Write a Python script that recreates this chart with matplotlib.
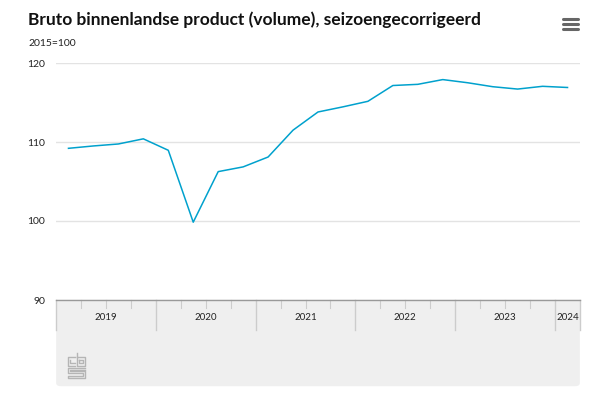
import matplotlib.pyplot as plt
from matplotlib.patches import FancyBboxPatch, Rectangle
from matplotlib.lines import Line2D
import matplotlib.transforms as mtransforms

# Quarterly GDP volume index (2015=100), 2019 Q1 - 2024 Q1
values = [109.2, 109.5, 109.75, 110.4,
          108.95, 99.85, 106.25, 106.85,
          108.1, 111.5, 113.8, 114.45,
          115.15, 117.15, 117.3, 117.9,
          117.5, 117.0, 116.7, 117.05,
          116.9]
years = ['2019', '2020', '2021', '2022', '2023', '2024']
quarters_per_year = [4, 4, 4, 4, 4, 1]
y_ticks = [90, 100, 110, 120]

W, H = 607, 400
fig = plt.figure(figsize=(W / 100, H / 100), dpi=100)
plt.rcParams['font.family'] = ['Lato', 'DejaVu Sans']


def fx(x):
    return x / W


def fy(y):
    return 1 - y / H


# plot area in pixels
left, right, top, bottom = 56, 580, 63, 300
ax = fig.add_axes([fx(left), fy(bottom), (right - left) / W, (bottom - top) / H])

# grey panel below the axis (rounded at the bottom)
panel = FancyBboxPatch((fx(left + 5), fy(388 - 5)), (right - left - 10) / W, (388 - 300 - 10) / H,
                       boxstyle='round,pad=0.008', transform=fig.transFigure,
                       facecolor='#efefef', edgecolor='none', zorder=0)
fig.add_artist(panel)
fig.add_artist(Rectangle((fx(left), fy(330)), (right - left) / W, 30 / H,
                         transform=fig.transFigure, facecolor='#efefef',
                         edgecolor='none', zorder=0))

xs = [i + 0.5 for i in range(len(values))]
ax.plot(xs, values, color='#00a1cd', lw=1.1, zorder=3)

ax.set_xlim(0, len(values))
ax.set_ylim(90, 120)
ax.set_yticks(y_ticks)
ax.set_yticklabels([str(t) for t in y_ticks], fontsize=7.5, color='#222222')
ax.tick_params(axis='y', length=0, pad=8)
ax.set_xticks([])
ax.grid(axis='y', color='#e3e3e3', lw=1)
ax.set_axisbelow(True)
for s in ['left', 'right', 'top']:
    ax.spines[s].set_visible(False)
ax.spines['bottom'].set_color('#999999')
ax.spines['bottom'].set_linewidth(1)
ax.patch.set_alpha(0)

# year / quarter ticks below the axis
trans = mtransforms.blended_transform_factory(ax.transData, fig.transFigure)
pos = 0
for yr, n in zip(years, quarters_per_year):
    ax.add_line(Line2D([pos, pos], [fy(300), fy(330)], transform=trans,
                       color='#cccccc', lw=1, clip_on=False))
    for q in range(1, n):
        ax.add_line(Line2D([pos + q, pos + q], [fy(300), fy(308)], transform=trans,
                           color='#cccccc', lw=0.8, clip_on=False))
    ax.text(pos + n / 2, fy(318), yr, transform=trans, ha='center', va='center',
            fontsize=7, color='#222222')
    pos += n
ax.add_line(Line2D([pos, pos], [fy(300), fy(330)], transform=trans,
                   color='#cccccc', lw=1, clip_on=False))

# titles
fig.text(fx(28), fy(20), 'Bruto binnenlandse product (volume), seizoengecorrigeerd',
         fontsize=12.5, fontweight='bold', color='#111111', ha='left', va='center')
fig.text(fx(28), fy(43), '2015=100', fontsize=7.5, color='#222222', ha='left', va='center')

# menu icon
for yy in [19, 24, 29]:
    fig.add_artist(Line2D([fx(563), fx(578)], [fy(yy), fy(yy)], color='#666666',
                          lw=2.2, solid_capstyle='round'))

# cbs logo (outline sketch)
lc = '#b5b5b5'
def seg(pts):
    fig.add_artist(Line2D([fx(p[0]) for p in pts], [fy(p[1]) for p in pts],
                          color=lc, lw=1))
seg([(75, 357), (68, 357), (68, 366), (75, 366)])
seg([(70, 360), (70, 363), (75, 363)])
seg([(77, 353), (77, 366), (85, 366), (85, 357), (77, 357)])
seg([(79, 360), (83, 360), (83, 363), (79, 363), (79, 360)])
seg([(85, 368), (68, 368), (68, 373), (83, 373), (83, 376), (68, 376), (68, 378), (85, 378), (85, 371), (70, 371), (70, 370), (85, 370)])

fig.savefig('out.png', dpi=100)
